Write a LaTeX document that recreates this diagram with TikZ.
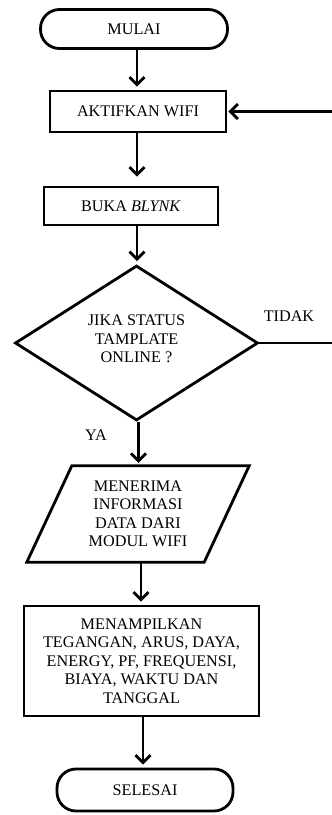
\documentclass[tikz,border=0pt]{standalone}
\usepackage{fontspec}
\setmainfont{Liberation Serif}
\usepackage{tikz}
\usetikzlibrary{positioning,arrows.meta,shapes.geometric}
\tikzset{
  txt/.style={font=\fontsize{16.2}{18.5}\selectfont, align=center, inner sep=0pt},
  term/.style={txt, draw=black, line width=2.8pt, rounded corners=19pt},
  proc/.style={txt, draw=black, line width=2.8pt},
  dec/.style={txt, diamond, draw=black, line width=2.8pt},
  io/.style={txt},
  fl/.style={draw=black, line width=2.8pt, -{Straight Barb[length=7.5pt, width=15pt, line width=2.8pt]}, shorten >=3pt},
  lbl/.style={font=\fontsize{16.2}{18}\selectfont, inner sep=1pt},
  flowchart/.style={x=1pt, y=-1pt}
}

\begin{document}
\begin{tikzpicture}[flowchart]
        \useasboundingbox (0,0) rectangle (332,815);
        \node[term, minimum width=187pt, minimum height=39pt] (mulai) at (134,29) {MULAI};
        \node[proc, minimum width=176pt, minimum height=41pt] (aktif) at (138,111.5) {AKTIFKAN WIFI};
        \node[proc, minimum width=174pt, minimum height=38pt] (buka) at (131,206) {BUKA \textit{BLYNK}};
        \node[dec, minimum width=243pt, minimum height=155pt] (cek) at (136.5,343) {};
        \node[txt] (cektxt) at (136.5,339) {JIKA STATUS\\TAMPLATE\\ONLINE ?};
        \node[io, minimum width=177pt, minimum height=96pt] (terima) at (138,514) {MENERIMA\\INFORMASI\\DATA DARI\\MODUL WIFI};
        \node[proc, minimum width=235pt, minimum height=110pt] (tampil) at (141.5,661) {MENAMPILKAN\\TEGANGAN, ARUS, DAYA,\\ENERGY, PF, FREQUENSI,\\BIAYA, WAKTU DAN\\TANGGAL};
        \node[term, minimum width=176pt, minimum height=42pt] (selesai) at (145,790) {SELESAI};
        \node[lbl] (tidak) at (289,316) {TIDAK};
        \node[lbl] (ya) at (96,435) {YA};
        \coordinate (balik) at (345,343);
        % input/output shape
        \draw[line width=2.8pt, line join=miter] ([xshift=22.5pt]terima.north west) -- ([xshift=22.5pt]terima.north east)
          -- ([xshift=-22.5pt]terima.south east) -- ([xshift=-22.5pt]terima.south west) -- cycle;
        \draw[fl] ([xshift=3pt]mulai.south) -- ([xshift=3pt]mulai.south |- aktif.north);
        \draw[fl, shorten >=9pt] ([xshift=-1pt]aktif.south) -- ([xshift=-1pt]aktif.south |- buka.north);
        \draw[fl] ([xshift=6pt]buka.south) -- ([xshift=6pt]buka.south |- cek.north);
        \draw[fl] ([xshift=2pt]cek.south) -- ([xshift=2pt]cek.south |- terima.north);
        \draw[fl] ([xshift=3pt]terima.south) -- ([xshift=3pt]terima.south |- tampil.north);
        \draw[fl] ([xshift=1.5pt]tampil.south) -- ([xshift=1.5pt]tampil.south |- selesai.north);
        \draw[fl, shorten >=1pt] (cek.east) -- (balik) |- (aktif.east);
      \end{tikzpicture}
\end{document}
